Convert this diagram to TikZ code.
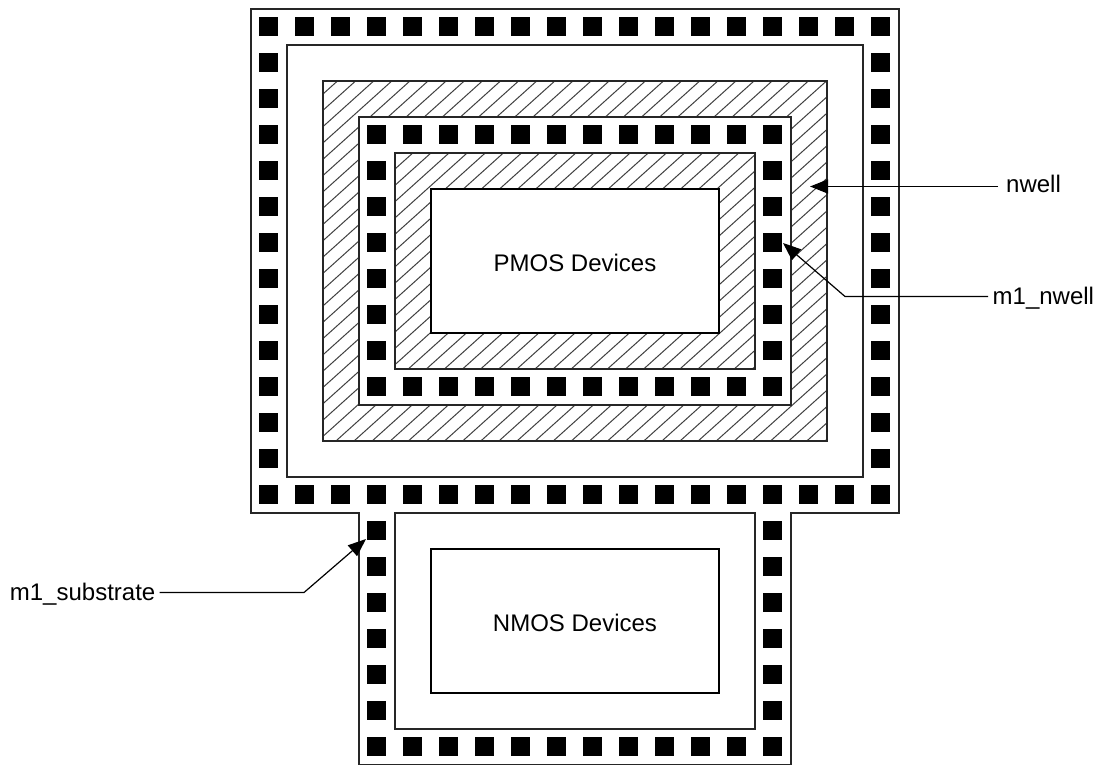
\documentclass[tikz,border=0pt]{standalone}
\usepackage{fontspec}
\setmainfont{Liberation Sans}
\usetikzlibrary{arrows.meta}
\tikzset{
  via/.style={fill=black,inner sep=0pt,minimum size=19.5pt,outer sep=0pt},
  layer/.style={draw=black!85,line width=1.3pt},
  device/.style={draw=black,line width=2.2pt,fill=white},
  hatchline/.style={draw=black!75,line width=1pt},
  callout/.style={draw=black,line width=1.2pt,-{Triangle[length=18pt,width=14pt]}},
  tag/.style={inner ysep=0pt,inner xsep=4pt,text height=15pt,text depth=0pt,font=\fontsize{24}{28}\selectfont},
  devtag/.style={font=\fontsize{24}{28}\selectfont}
}
\begin{document}
\begin{tikzpicture}[x=1pt,y=-1pt]
            \def\pitch{36}
            \def\hatch{16.3}
            \useasboundingbox (0,0) rectangle (1097,765);

            % outer guard ring
            \draw[layer] (251,9) -- (899,9) -- (899,513) -- (791,513) -- (791,765)
                -- (359,765) -- (359,513) -- (251,513) -- cycle;
            \draw[layer] (287,45) rectangle (863,477);

            % nwell
            \begin{scope}
                \clip (323,81) rectangle (827,441);
                \foreach \k in {0,...,52} {
                    \draw[hatchline] (323,94+\k*\hatch) -- ++(600,-540);
                }
            \end{scope}
            \draw[layer] (323,81) rectangle (827,441);
            \draw[layer,fill=white] (359,117) rectangle (791,405);

            % inner well, hatched again
            \begin{scope}
                \clip (395,153) rectangle (755,369);
                \foreach \k in {0,...,36} {
                    \draw[hatchline] (395,169+\k*\hatch) -- ++(500,-450);
                }
            \end{scope}
            \draw[layer] (395,153) rectangle (755,369);

            \draw[device] (431,189) rectangle (719,333);
            \node[devtag] (pmos) at (575,263) {PMOS Devices};
            \draw[layer] (395,513) rectangle (755,729);
            \draw[device] (431,549) rectangle (719,693);
            \node[devtag] (nmos) at (575,623) {NMOS Devices};

            % contacts of the outer ring
            \foreach \i in {0,...,17} {
                \node[via] (T\i) at (268.5+\i*\pitch,26.5) {};
                \node[via] (M\i) at (268.5+\i*\pitch,494.5) {};
            }
            \foreach \j in {1,...,12} {
                \node[via] (L\j) at (268.5,26.5+\j*\pitch) {};
                \node[via] (R\j) at (880.5,26.5+\j*\pitch) {};
            }

            % contacts of the lower part
            \foreach \j in {14,...,19} {
                \node[via] (SL\j) at (376.5,26.5+\j*\pitch) {};
                \node[via] (SR\j) at (772.5,26.5+\j*\pitch) {};
            }
            \foreach \i in {3,...,14} {
                \node[via] (B\i) at (268.5+\i*\pitch,746.5) {};
            }

            % contacts inside nwell
            \foreach \i in {3,...,14} {
                \node[via] (NT\i) at (268.5+\i*\pitch,134.5) {};
                \node[via] (NB\i) at (268.5+\i*\pitch,386.5) {};
            }
            \foreach \j in {4,...,9} {
                \node[via] (NL\j) at (376.5,26.5+\j*\pitch) {};
                \node[via] (NR\j) at (772.5,26.5+\j*\pitch) {};
            }

            % labels
            \node[tag,anchor=west,inner xsep=8pt,text height=12pt] (nwell) at (998,186.5) {nwell};
            \node[tag,anchor=west,inner xsep=4.5pt] (m1nwell) at (988,296.5) {m1\_nwell};
            \node[tag,anchor=east] (m1sub) at (159.5,592.5) {m1\_substrate};

            \coordinate (nwelltip) at (810,186.5);
            \coordinate (m1nwellbend) at (845,296.5);
            \coordinate (m1nwelltip) at (783,243);
            \coordinate (m1subbend) at (304,592.5);
            \coordinate (m1subtip) at (366,539);

            \draw[callout] (nwell) -- (nwelltip);
            \draw[callout] (m1nwell) -- (m1nwellbend) -- (m1nwelltip);
            \draw[callout] (m1sub) -- (m1subbend) -- (m1subtip);
\end{tikzpicture}
\end{document}
